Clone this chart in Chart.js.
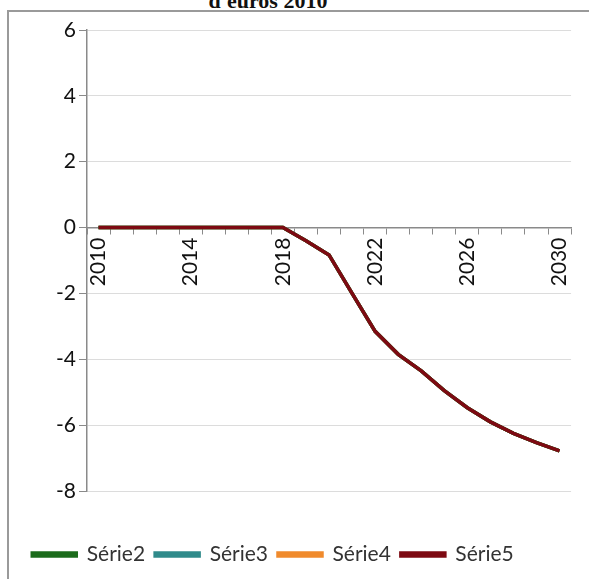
<!DOCTYPE html>
<html>
<head>
<meta charset="utf-8">
<script src="https://cdn.jsdelivr.net/npm/chart.js@4"></script>
<style>
    body { margin: 0; background: #fff; overflow: hidden; }
    #wrap { position: relative; width: 589px; height: 579px; overflow: hidden; }
    #titre {
        position: absolute; top: -12px; left: 168px; width: 200px;
        text-align: center; font: bold 22px "Liberation Serif", serif; color: #111;
        white-space: nowrap;
    }
    #cadre {
        position: absolute; left: 7px; top: 10px; width: 620px; height: 620px;
        border-left: 2px solid #9a9a9a; border-top: 2px solid #9a9a9a;
    }
    #box { position: absolute; left: 0; top: 0; width: 589px; height: 579px; }
</style>
</head>
<body>
<div id="wrap">
    <div id="titre">d'euros 2010</div>
    <div id="cadre"></div>
    <div id="box"><canvas id="graphique"></canvas></div>
</div>
<script>
const annees = ['2010', '2011', '2012', '2013', '2014', '2015', '2016', '2017', '2018', '2019',
    '2020', '2021', '2022', '2023', '2024', '2025', '2026', '2027', '2028', '2029', '2030'];

const serie2 = [0, 0, 0, 0, 0, 0, 0, 0, 0, -0.4, -0.83, -2.0, -3.15, -3.85, -4.35, -4.95, -5.47, -5.9, -6.25, -6.53, -6.78];
const serie3 = [0, 0, 0, 0, 0, 0, 0, 0, 0, -0.4, -0.83, -2.0, -3.15, -3.85, -4.35, -4.95, -5.47, -5.9, -6.25, -6.53, -6.78];
const serie4 = [0, 0, 0, 0, 0, 0, 0, 0, 0, -0.4, -0.83, -2.0, -3.15, -3.85, -4.35, -4.95, -5.47, -5.9, -6.25, -6.53, -6.78];
const serie5 = [0, 0, 0, 0, 0, 0, 0, 0, 0, -0.4, -0.83, -2.0, -3.15, -3.85, -4.35, -4.95, -5.47, -5.9, -6.25, -6.53, -6.78];

const yTicks = [-8, -6, -4, -2, 0, 2, 4, 6];

const police = 'Lato, "Open Sans", sans-serif';

function serie(label, data, color, order) {
    return {
        label: label,
        data: data,
        borderColor: color,
        backgroundColor: color,
        borderWidth: 3.5,
        pointRadius: 0,
        tension: 0,
        order: order
    };
}

// la légende est posée plus bas et un peu à gauche de sa place par défaut
const decalLegende = {
    id: 'decalLegende',
    afterLayout(chart) {
        const lg = chart.legend;
        lg.left -= 20;
        lg.right -= 20;
        lg.top += 43;
        lg.bottom += 43;
    }
};

const ctx = document.getElementById('graphique').getContext('2d');

const graphique = new Chart(ctx, {
    type: 'line',
    data: {
        labels: annees,
        datasets: [
            serie('Série2', serie2, '#1b6b1b', 0),
            serie('Série3', serie3, '#2f8a8a', 0),
            serie('Série4', serie4, '#f08a2c', 0),
            serie('Série5', serie5, '#7d0a12', -1)
        ]
    },
    options: {
        responsive: true,
        maintainAspectRatio: false,
        animation: false,
        layout: { padding: { left: 8, right: 11, top: 30, bottom: 47 } },
        plugins: {
            tooltip: { enabled: false },
            legend: {
                position: 'bottom',
                labels: {
                    boxWidth: 44,
                    boxHeight: 3,
                    padding: 10,
                    color: '#333',
                    font: { family: police, size: 21 },
                    sort: (a, b) => a.datasetIndex - b.datasetIndex
                }
            }
        },
        scales: {
            x: {
                type: 'category',
                axis: 'x',
                position: { y: 0 },
                offset: true,
                grid: {
                    offset: true,
                    drawOnChartArea: false,
                    tickLength: 6,
                    tickColor: '#8a8a8a'
                },
                border: { color: '#8a8a8a', width: 1.5 },
                ticks: {
                    autoSkip: false,
                    minRotation: 90,
                    maxRotation: 90,
                    padding: 4,
                    color: '#111',
                    font: { family: police, size: 21 },
                    callback: function(value, index) {
                        return index % 4 === 0 ? this.getLabelForValue(value) : '';
                    }
                }
            },
            y: {
                min: yTicks[0],
                max: yTicks[yTicks.length - 1],
                afterBuildTicks: (scale) => { scale.ticks = yTicks.map(v => ({ value: v })); },
                grid: {
                    color: '#dcdcdc',
                    tickColor: '#8a8a8a',
                    tickLength: 8
                },
                border: { color: '#8a8a8a', width: 1.5 },
                ticks: {
                    padding: 3,
                    color: '#111',
                    font: { family: police, size: 21 }
                },
                afterFit: (scale) => { scale.width = 79; }
            }
        }
    },
    plugins: [decalLegende]
});
</script>
</body>
</html>
